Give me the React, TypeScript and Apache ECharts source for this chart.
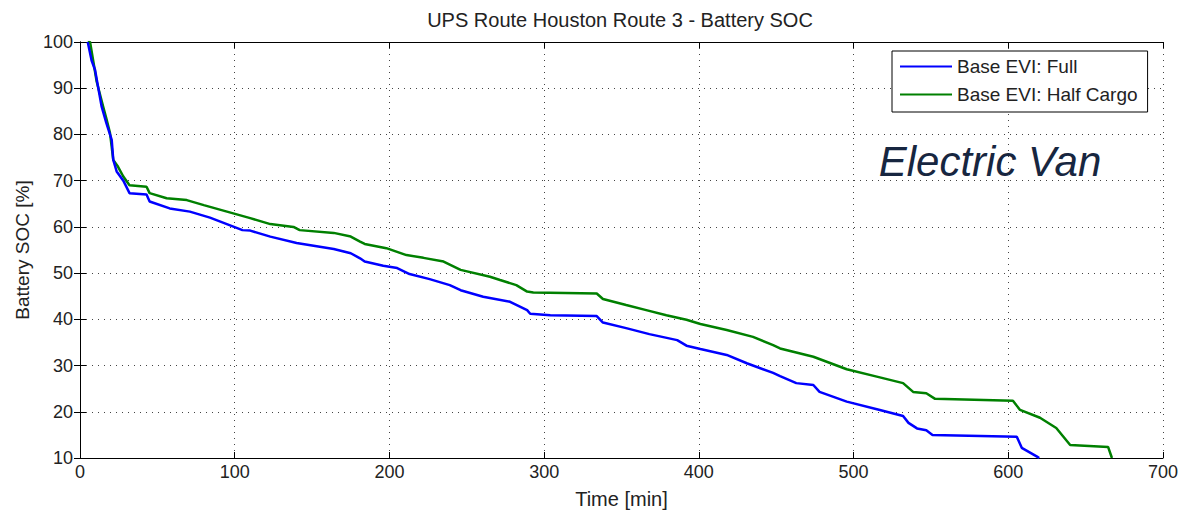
import React, { useEffect, useRef } from "react";
import * as echarts from "echarts";

const titleText = "UPS Route Houston Route 3 - Battery SOC";
const seriesNames = ["Base EVI: Full", "Base EVI: Half Cargo"];
const xTicks = [0, 100, 200, 300, 400, 500, 600, 700];
const yTicks = [10, 20, 30, 40, 50, 60, 70, 80, 90, 100];

const timeFull = [5, 7.5, 9.7, 14, 17, 20.5, 21.5, 23.7, 28, 32, 43, 45, 58, 71, 84, 105, 110, 123, 140, 164, 175, 181, 184, 196, 205, 213, 226, 239, 246, 260.6, 278, 289, 291, 304, 334, 338, 353, 368, 386, 392, 401, 418, 431, 448, 452.5, 463, 474, 478, 495.6, 517, 532, 535.5, 541, 547, 551, 605.5, 608.7, 618.6, 620];
const socFull = [100, 96, 94, 86, 82.5, 78.8, 74.5, 72, 70, 67.3, 67, 65.5, 64, 63.3, 62, 59.3, 59.2, 57.9, 56.5, 55.2, 54.3, 53.2, 52.5, 51.6, 51.1, 49.8, 48.7, 47.4, 46.3, 44.9, 43.8, 42, 41.2, 40.9, 40.7, 39.3, 38.1, 36.8, 35.5, 34.3, 33.6, 32.3, 30.5, 28.4, 27.7, 26.2, 25.8, 24.3, 22.2, 20.4, 19.1, 17.6, 16.4, 16, 15, 14.6, 12.2, 10.3, 10];

const timeHalf = [5, 6.5, 10.8, 15, 17, 19.4, 21.5, 24.6, 28, 32, 43, 45, 56, 69, 80, 95, 110, 123, 138, 142, 164, 175, 181, 184, 198, 211, 222, 235, 246, 265, 271.5, 282, 289, 293, 334, 338, 353, 366, 379, 392, 401, 418, 435, 448, 452.5, 461, 474, 495.6, 515, 532, 538.5, 547, 552.7, 603, 607.6, 620.5, 631, 640, 664.5, 667];
const socHalf = [100, 100, 91.4, 86, 83.5, 80.3, 74.5, 73, 70.9, 69, 68.7, 67.3, 66.2, 65.8, 64.7, 63.3, 61.9, 60.6, 60, 59.3, 58.7, 57.9, 56.8, 56.3, 55.4, 53.9, 53.3, 52.5, 50.7, 49.2, 48.5, 47.4, 46, 45.8, 45.6, 44.4, 43.1, 42, 40.9, 39.9, 39, 37.7, 36.2, 34.4, 33.7, 33, 31.9, 29.2, 27.6, 26.2, 24.3, 24, 22.8, 22.4, 20.4, 18.7, 16.5, 12.8, 12.4, 10];

const pairs = (xs: number[], ys: number[]) => xs.map((x, i) => [x, ys[i]]);

export default function App() {
  const ref = useRef<HTMLDivElement>(null);
  useEffect(() => {
    if (!ref.current) return;
    const chart = echarts.init(ref.current, null, { renderer: "svg" });
    const font = "'Liberation Sans', Arial, sans-serif";
    const dotted = { color: "#444", width: 1, type: [1, 5] as any };
    const xMin = xTicks[0];
    const xMax = xTicks[xTicks.length - 1];
    const yMin = yTicks[0];
    const yMax = yTicks[yTicks.length - 1];
    chart.setOption({
      animation: false,
      backgroundColor: "#fff",
      textStyle: { fontFamily: font },
      grid: { left: 80, right: 19, top: 42, bottom: 52, containLabel: false, outerBoundsMode: "none" },
      graphic: [
        {
          type: "text",
          x: 620,
          y: 20,
          style: {
            text: titleText,
            fontSize: 20,
            fontFamily: font,
            fill: "#222",
            textAlign: "center",
            textVerticalAlign: "middle",
          },
        },
        {
          type: "text",
          x: 990,
          y: 161,
          style: {
            text: "Electric Van",
            fontSize: 42,
            fontStyle: "italic",
            fontFamily: font,
            fill: "#172640",
            textAlign: "center",
            textVerticalAlign: "middle",
          },
        },
      ],
      legend: {
        orient: "vertical",
        left: 892,
        top: 51,
        icon: "rect",
        itemWidth: 52,
        itemHeight: 2,
        itemGap: 7,
        padding: [5, 10, 7, 8],
        borderColor: "#000",
        borderWidth: 1,
        backgroundColor: "#fff",
        textStyle: { fontSize: 19, lineHeight: 21, color: "#222", fontFamily: font },
        data: seriesNames,
      },
      xAxis: [
        {
          type: "value",
          min: xMin,
          max: xMax,
          interval: 100,
          name: "Time [min]",
          nameLocation: "middle",
          nameGap: 31,
          nameTextStyle: { fontSize: 20, color: "#222", fontFamily: font },
          axisLine: { lineStyle: { color: "#000", width: 1 } },
          axisTick: { inside: true, length: 6, lineStyle: { color: "#000" } },
          axisLabel: { fontSize: 18, color: "#222", margin: 5, fontFamily: font },
          splitLine: { show: true, lineStyle: dotted },
        },
        {
          type: "value",
          position: "top",
          min: xMin,
          max: xMax,
          interval: 100,
          axisLine: { show: true, lineStyle: { color: "#000", width: 1 } },
          axisTick: { show: true, inside: true, length: 6, lineStyle: { color: "#000" } },
          axisLabel: { show: false },
          splitLine: { show: false },
        },
      ],
      yAxis: [
        {
          type: "value",
          min: yMin,
          max: yMax,
          interval: 10,
          name: "Battery SOC [%]",
          nameLocation: "middle",
          nameGap: 48,
          nameTextStyle: { fontSize: 19, color: "#222", fontFamily: font },
          axisLine: { show: true, lineStyle: { color: "#000", width: 1 } },
          axisTick: { show: true, inside: true, length: 6, lineStyle: { color: "#000" } },
          axisLabel: { fontSize: 18, color: "#222", margin: 7, fontFamily: font },
          splitLine: { show: true, lineStyle: dotted },
        },
        {
          type: "value",
          position: "right",
          min: yMin,
          max: yMax,
          interval: 10,
          axisLine: { show: true, lineStyle: { color: "#000", width: 1 } },
          axisTick: { show: true, inside: true, length: 6, lineStyle: { color: "#000" } },
          axisLabel: { show: false },
          splitLine: { show: false },
        },
      ],
      series: [
        {
          name: seriesNames[0],
          type: "line",
          data: pairs(timeFull, socFull),
          showSymbol: false,
          symbol: "none",
          lineStyle: { color: "#0000ff", width: 2.5 },
          itemStyle: { color: "#0000ff" },
          z: 3,
        },
        {
          name: seriesNames[1],
          type: "line",
          data: pairs(timeHalf, socHalf),
          showSymbol: false,
          symbol: "none",
          lineStyle: { color: "#008000", width: 2.5 },
          itemStyle: { color: "#008000" },
          z: 2,
        },
      ],
    });
    return () => chart.dispose();
  }, []);
  return (
    <div
      ref={ref}
      style={{ position: "absolute", left: 0, top: 0, width: 1182, height: 510 }}
    />
  );
}
